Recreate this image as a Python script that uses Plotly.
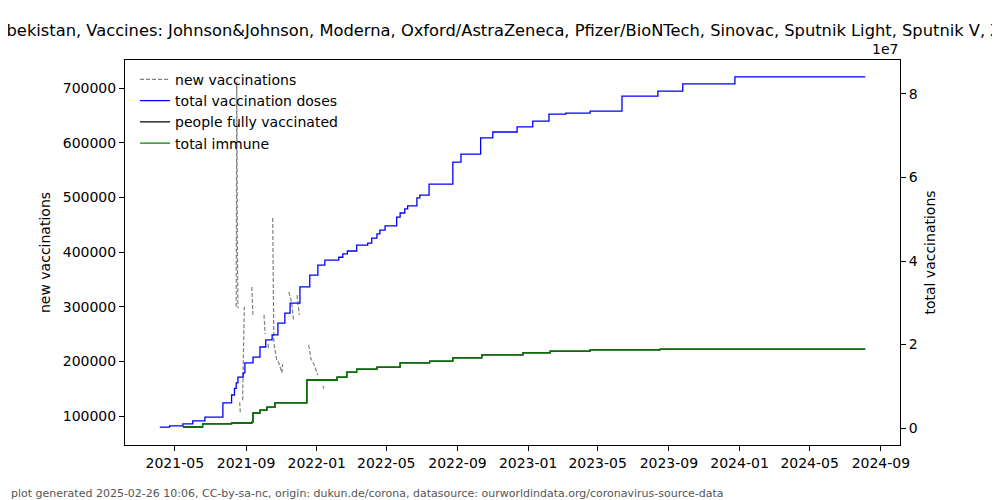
import plotly.graph_objects as go

# ---- data ----
dates_total = ["2021-04-05", "2021-04-22", "2021-05-15", "2021-06-01", "2021-06-22", "2021-07-23",
               "2021-08-07", "2021-08-12", "2021-08-15", "2021-08-18", "2021-08-27", "2021-08-30",
               "2021-09-13", "2021-09-25", "2021-10-05", "2021-10-16", "2021-10-26", "2021-11-07",
               "2021-11-16", "2021-12-03", "2021-12-20", "2022-01-03", "2022-01-15", "2022-02-08",
               "2022-02-15", "2022-02-23", "2022-03-11", "2022-03-30", "2022-04-06", "2022-04-15",
               "2022-04-20", "2022-04-29", "2022-05-19", "2022-05-25", "2022-06-02", "2022-06-07",
               "2022-06-23", "2022-06-28", "2022-07-14", "2022-08-24", "2022-09-07", "2022-10-11",
               "2022-11-01", "2022-12-13", "2023-01-09", "2023-02-06", "2023-03-07", "2023-04-18",
               "2023-06-12", "2023-08-13", "2023-09-25", "2023-12-24", "2024-08-05"]
total_doses = [200000, 500000, 1000000, 1700000, 2600000, 6000000,
               7900000, 9500000, 10800000, 12200000, 13200000, 15600000,
               17000000, 19400000, 21100000, 22300000, 25100000, 27500000,
               29900000, 33800000, 36600000, 39000000, 40200000, 40900000,
               41700000, 42400000, 43800000, 44300000, 45500000, 46500000,
               47400000, 48400000, 50500000, 51500000, 52500000, 53200000,
               55100000, 55800000, 58400000, 63700000, 65600000, 69500000,
               70900000, 72100000, 73500000, 75200000, 75400000, 75900000,
               79500000, 80700000, 82400000, 84100000, 84100000]

dates_immune = ["2021-05-15", "2021-06-18", "2021-08-07", "2021-09-11", "2021-09-13", "2021-09-25",
                "2021-10-07", "2021-10-21", "2021-12-15", "2022-02-05", "2022-02-22", "2022-03-11",
                "2022-04-15", "2022-05-25", "2022-07-15", "2022-08-24", "2022-10-13", "2022-12-23",
                "2023-02-08", "2023-04-18", "2023-08-17", "2024-08-05"]
fully_vaccinated = [240000, 1000000, 1200000, 1400000, 3600000, 4300000,
                    5000000, 6000000, 11500000, 12200000, 13400000, 14100000,
                    14600000, 15600000, 16000000, 16800000, 17500000, 18000000,
                    18400000, 18700000, 18900000, 18900000]
total_immune = [240000, 1000000, 1200000, 1400000, 3600000, 4300000,
                5000000, 6000000, 11500000, 12200000, 13400000, 14100000,
                14600000, 15600000, 16000000, 16800000, 17500000, 18000000,
                18400000, 18700000, 18900000, 18900000]

dates_new = ["2021-08-15", "2021-08-16", "2021-08-17", "2021-08-18", "2021-08-19",
             "2021-08-21", "2021-08-22", "2021-08-23",
             "2021-08-26", "2021-08-29", "2021-08-30",
             "2021-09-11", "2021-09-13", "2021-09-14",
             "2021-10-02", "2021-10-04", "2021-10-05",
             "2021-10-09", "2021-10-10", "2021-10-11",
             "2021-10-17", "2021-10-19", "2021-10-22", "2021-10-24", "2021-10-27",
             "2021-10-30", "2021-11-02", "2021-11-03", "2021-11-04",
             "2021-11-14", "2021-11-17", "2021-11-19", "2021-11-22", "2021-11-23",
             "2021-11-28", "2021-12-01", "2021-12-02", "2021-12-03",
             "2021-12-18", "2021-12-22", "2021-12-27", "2022-01-03", "2022-01-04",
             "2022-01-12", "2022-01-13"]
new_vacc = [300000, 712000, 420000, 297000, None,
            125000, 107000, None,
            129000, 300000, None,
            336000, 281000, None,
            285000, 250000, None,
            232000, 222000, None,
            462000, 233000, 215000, 202000, 199000,
            190000, 179000, 195000, None,
            327000, 312000, 306000, 275000, None,
            321000, 300000, 285000, None,
            230000, 205000, 195000, 175000, None,
            155000, 150000]

x_tick_dates = ["2021-05-01", "2021-09-01", "2022-01-01", "2022-05-01", "2022-09-01", "2023-01-01",
                "2023-05-01", "2023-09-01", "2024-01-01", "2024-05-01", "2024-09-01"]
x_tick_labels = ["2021-05", "2021-09", "2022-01", "2022-05", "2022-09", "2023-01",
                 "2023-05", "2023-09", "2024-01", "2024-05", "2024-09"]
left_ticks = [100000, 200000, 300000, 400000, 500000, 600000, 700000]
right_ticks = [0, 20000000, 40000000, 60000000, 80000000]
right_tick_labels = ["0", "2", "4", "6", "8"]

title_text = ("Uzbekistan, Vaccines: Johnson&Johnson, Moderna, Oxford/AstraZeneca, Pfizer/BioNTech, "
              "Sinovac, Sputnik Light, Sputnik V, ZF2001")
footer_text = ("plot generated 2025-02-26 10:06, CC-by-sa-nc, origin: dukun.de/corona, "
               "datasource: ourworldindata.org/coronavirus-source-data")

FONT = "DejaVu Sans"

fig = go.Figure()
fig.add_trace(go.Scatter(x=dates_new, y=new_vacc, name="new vaccinations", mode="lines",
                         line=dict(color="#808080", width=1.2, dash="4px,2px"),
                         connectgaps=False, yaxis="y"))
fig.add_trace(go.Scatter(x=dates_total, y=total_doses, name="total vaccination doses", mode="lines",
                         line=dict(color="#0000ff", width=1.3, shape="hv"), yaxis="y2"))
fig.add_trace(go.Scatter(x=dates_immune, y=fully_vaccinated, name="people fully vaccinated", mode="lines",
                         line=dict(color="#000000", width=1.3, shape="hv"), yaxis="y2"))
fig.add_trace(go.Scatter(x=dates_immune, y=total_immune, name="total immune", mode="lines",
                         line=dict(color="#008000", width=1.3, shape="hv"), yaxis="y2"))

axis_common = dict(showline=True, linecolor="black", linewidth=1, ticks="outside", ticklen=5,
                   tickcolor="black", tickwidth=1, showgrid=False, zeroline=False, automargin=False,
                   tickfont=dict(family=FONT, size=14, color="black"))

fig.update_layout(
    width=992, height=492, autosize=False,
    margin=dict(l=117, r=100, t=52, b=55, pad=0),
    paper_bgcolor="white", plot_bgcolor="white",
    font=dict(family=FONT, size=14, color="black"),
    title=dict(text=title_text, x=0.5153, xanchor="center", xref="container",
               y=0.955, yanchor="middle", yref="container",
               font=dict(family=FONT, size=16.3, color="black")),
    xaxis=dict(type="date", range=["2021-02-04", "2024-10-04"], tickvals=x_tick_dates,
               ticktext=x_tick_labels, mirror=True, **axis_common),
    yaxis=dict(range=[46955, 751220], tickvals=left_ticks, ticktext=[str(v) for v in left_ticks],
               title=dict(text="new vaccinations", font=dict(family=FONT, size=14), standoff=8),
               mirror=True, **axis_common),
    yaxis2=dict(range=[-4.07e6, 8.814e7], overlaying="y", side="right", anchor="x",
                tickvals=right_ticks, ticktext=right_tick_labels,
                title=dict(text="total vaccinations", font=dict(family=FONT, size=14), standoff=8),
                **axis_common),
    legend=dict(x=0.013, y=0.99, xanchor="left", yanchor="top", bgcolor="rgba(0,0,0,0)",
                font=dict(family=FONT, size=14, color="black"), borderwidth=0,
                tracegroupgap=0, itemwidth=30),
    showlegend=True,
    annotations=[
        dict(text="1e7", xref="paper", yref="paper", x=1.0, y=1.0, xanchor="right", yanchor="bottom",
             yshift=1, showarrow=False, font=dict(family=FONT, size=14, color="black")),
        dict(text=footer_text, xref="paper", yref="paper", x=-0.150, y=-0.127, xanchor="left",
             yanchor="middle", showarrow=False, font=dict(family=FONT, size=11, color="#555555")),
    ],
)

fig.write_html("out.html")
